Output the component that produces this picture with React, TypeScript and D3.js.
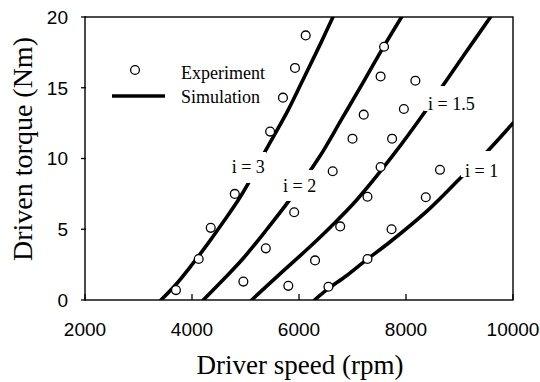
import React from 'react'
import * as d3 from 'd3'

// experiment points [speed rpm, torque Nm]
const expI3 = [[3700, 0.7], [4125, 2.9], [4350, 5.1], [4800, 7.5], [5460, 11.9], [5700, 14.3], [5925, 16.4], [6125, 18.7]]
const expI2 = [[4960, 1.3], [5380, 3.65], [5910, 6.2], [6630, 9.1], [7000, 11.4], [7210, 13.1], [7525, 15.8], [7590, 17.9]]
const expI15 = [[5800, 1.0], [6300, 2.8], [6770, 5.2], [7280, 7.3], [7525, 9.4], [7740, 11.4], [7960, 13.5], [8175, 15.5]]
const expI1 = [[6550, 0.94], [7280, 2.9], [7730, 5.0], [8370, 7.26], [8635, 9.2]]

// simulation curves
const simI3 = [[3420, 0], [3700, 1.1], [4000, 2.5], [4300, 4.0], [4600, 5.6], [4865, 7.07], [5052, 8.25], [5364, 10.48], [5794, 13.4], [6143, 16.1], [6400, 18.1], [6635, 20]]
const simI2 = [[4211, 0], [4600, 1.5], [4959, 2.95], [5400, 5.0], [5800, 6.95], [6380, 10.1], [6800, 12.8], [7202, 15.4], [7550, 17.7], [7917, 20]]
const simI15 = [[5115, 0], [5645, 1.85], [6143, 3.55], [6600, 5.2], [7078, 7.07], [7762, 10.25], [8355, 13.3], [8697, 15.2], [9100, 17.4], [9580, 20]]
const simI1 = [[6290, 0], [6530, 0.75], [6900, 1.75], [7265, 2.85], [7700, 4.1], [8448, 6.48], [9040, 8.71], [9519, 10.5], [10000, 12.5]]

const xTicks = [2000, 4000, 6000, 8000, 10000]
const yTicks = [0, 5, 10, 15, 20]

// curve labels: text, speed, torque at text start / baseline
const labelText = ['i = 3', 'i = 2', 'i = 1.5', 'i = 1']
const labelAt = [[4742, 8.98], [5701, 7.6], [8411, 13.43], [9103, 8.71]]
// blank areas behind labels [speed0, speed1, torque0, torque1]
const labelGap = [[4710, 5383, 8.27, 10.46], [5664, 6355, 7.0, 9.19], [8337, 9383, 13.36, 15.12], [9028, 9794, 8.69, 10.53]]

const serif = '"Liberation Serif", "Times New Roman", serif'
const sans = '"Liberation Sans", Arial, sans-serif'

export default function App() {
  const width = 540
  const height = 382
  const x = d3.scaleLinear().domain([2000, 10000]).range([85, 513])
  const y = d3.scaleLinear().domain([0, 20]).range([300, 17])

  const line = d3.line<number[]>()
    .x(d => x(d[0]))
    .y(d => y(d[1]))
    .curve(d3.curveCatmullRom.alpha(0.5))

  const sims = [simI3, simI2, simI15, simI1]
  const exps = [...expI3, ...expI2, ...expI15, ...expI1]

  return (
    <svg width={width} height={height} style={{ position: 'absolute', left: 0, top: 0, background: '#fff' }}>
      <defs>
        <clipPath id="plot">
          <rect x={85} y={17} width={428} height={283} />
        </clipPath>
      </defs>
      <g clipPath="url(#plot)">
        {sims.map((s, i) => (
          <path key={i} d={line(s) || ''} fill="none" stroke="#000" strokeWidth={3.6} strokeLinecap="round" />
        ))}
      </g>
      {labelGap.map((g, i) => (
        <rect key={i} x={x(g[0])} y={y(g[3])} width={x(g[1]) - x(g[0])} height={y(g[2]) - y(g[3])} fill="#fff" />
      ))}
      {labelText.map((t, i) => (
        <text key={i} x={x(labelAt[i][0])} y={y(labelAt[i][1])} fontFamily={serif} fontSize={18}>{t}</text>
      ))}
      {exps.map((d, i) => (
        <circle key={i} cx={x(d[0])} cy={y(d[1])} r={4.4} fill="#fff" stroke="#000" strokeWidth={1.3} />
      ))}

      {/* frame */}
      <rect x={85} y={17} width={428} height={283} fill="none" stroke="#000" strokeWidth={1.4} />
      {xTicks.map(t => (
        <g key={t}>
          <line x1={x(t)} x2={x(t)} y1={300} y2={294} stroke="#000" strokeWidth={1.3} />
          <text x={x(t)} y={336} textAnchor="middle" fontFamily={sans} fontSize={19}>{t}</text>
        </g>
      ))}
      {yTicks.map(t => (
        <g key={t}>
          <line x1={81} x2={86} y1={y(t)} y2={y(t)} stroke="#000" strokeWidth={1.3} />
          <text x={68} y={y(t)} dy="0.36em" textAnchor="end" fontFamily={sans} fontSize={19}>{t}</text>
        </g>
      ))}
      <text x={300} y={374} textAnchor="middle" fontFamily={serif} fontSize={27}>Driver speed (rpm)</text>
      <text transform="translate(32,149) rotate(-90)" textAnchor="middle" fontFamily={serif} fontSize={28}>Driven torque (Nm)</text>

      {/* legend */}
      <circle cx={135} cy={70} r={4.4} fill="#fff" stroke="#000" strokeWidth={1.3} />
      <text x={181} y={79} fontFamily={serif} fontSize={18}>Experiment</text>
      <line x1={112} x2={165} y1={96} y2={96} stroke="#000" strokeWidth={3.4} />
      <text x={181} y={103} fontFamily={serif} fontSize={18}>Simulation</text>
    </svg>
  )
}
